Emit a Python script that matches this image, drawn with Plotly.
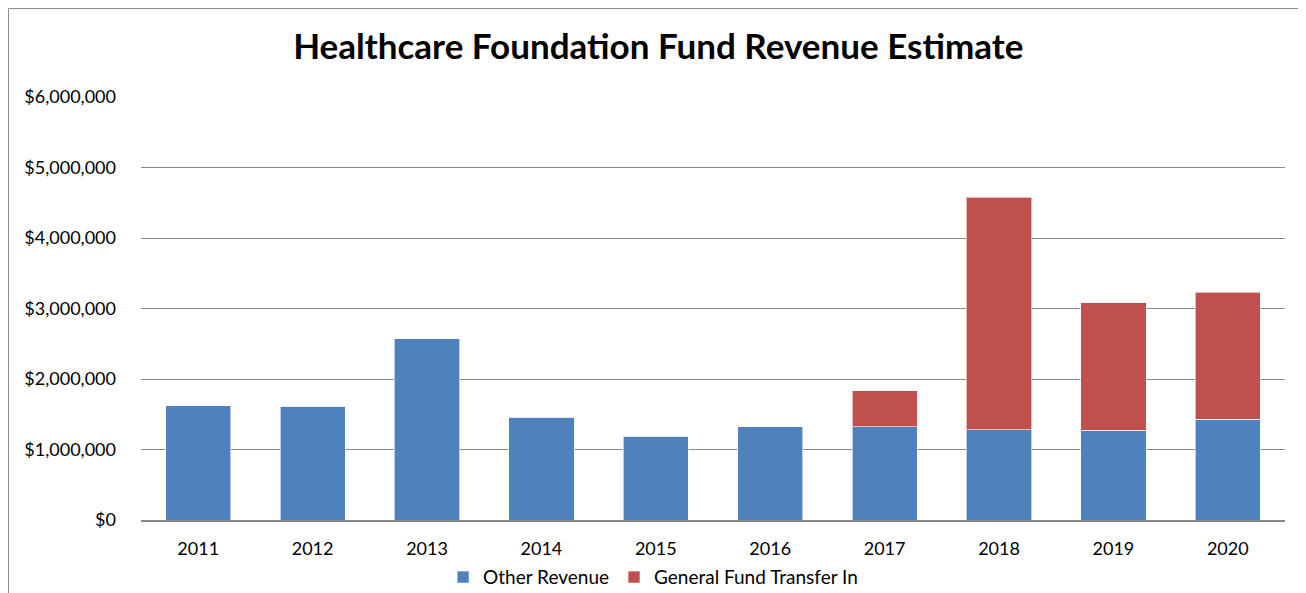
import plotly.graph_objects as go

years = ["2011", "2012", "2013", "2014", "2015", "2016", "2017", "2018", "2019", "2020"]
other_revenue = [1620000, 1615000, 2570000, 1460000, 1190000, 1320000, 1325000, 1280000, 1275000, 1430000]
general_fund_transfer = [0, 0, 0, 0, 0, 0, 505000, 3300000, 1805000, 1800000]
y_ticks = [0, 1000000, 2000000, 3000000, 4000000, 5000000, 6000000]

FONT = "Lato, 'Open Sans', sans-serif"

# page body has an 8px margin, so the figure is sized/placed to compensate
W, H = 1298, 585
L, R, T, B = 133, 21, 89, 73
plot_w = W - L - R
plot_h = H - T - B

fig = go.Figure()
fig.add_trace(go.Bar(
    x=years, y=other_revenue, name="Other Revenue",
    marker=dict(color="#4F81BD", line=dict(color="rgba(255,255,255,0.6)", width=1)),
))
fig.add_trace(go.Bar(
    x=years, y=general_fund_transfer, name="General Fund Transfer In",
    marker=dict(color="#C0504D", line=dict(color="rgba(255,255,255,0.6)", width=1)),
))

fig.update_layout(
    barmode="stack",
    bargap=0.43,
    width=W, height=H,
    margin=dict(l=L, r=R, t=T, b=B),
    paper_bgcolor="white", plot_bgcolor="white",
    font=dict(family=FONT, size=18, color="black"),
    title=dict(
        text="<b>Healthcare Foundation Fund Revenue Estimate</b>",
        x=0.501, xanchor="center", y=0.933, yanchor="middle",
        font=dict(family=FONT, size=35, color="black"),
    ),
    legend=dict(
        orientation="h", xref="container", x=0.497, xanchor="center",
        yref="container", y=0.027, yanchor="middle",
        font=dict(size=19), itemwidth=30, traceorder="normal",
    ),
    xaxis=dict(
        showline=True, linecolor="#888888", linewidth=2,
        ticks="", tickfont=dict(size=18), showgrid=False,
        ticklabelstandoff=11, automargin=False,
    ),
    yaxis=dict(
        range=[0, 6000000], tickvals=y_ticks,
        tickformat="$,.0f", showgrid=True, gridcolor="#8a8a8a", gridwidth=1.2,
        zeroline=False, showline=False, ticks="", ticklabelstandoff=24,
        tickfont=dict(size=18), automargin=False,
    ),
    shapes=[dict(
        type="rect", xref="paper", yref="paper",
        x0=(0.5 - L) / plot_w, x1=(W + 20 - L) / plot_w,
        y0=-(B + 20) / plot_h, y1=(plot_h + T - 0.5) / plot_h,
        line=dict(color="#8c8c8c", width=1), fillcolor="rgba(0,0,0,0)", layer="below",
    )],
)

fig.write_html("out.html")
